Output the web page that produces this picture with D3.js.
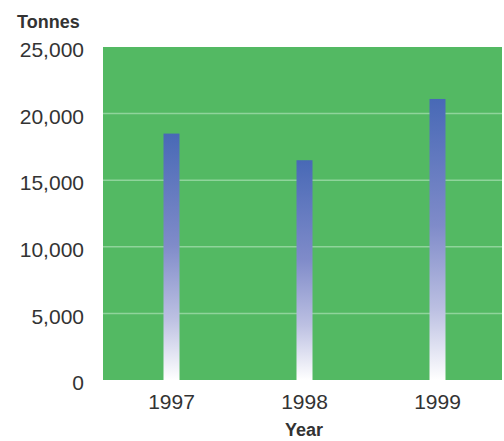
<!DOCTYPE html>
<html>
<head>
<meta charset="utf-8">
<script src="https://cdn.jsdelivr.net/npm/d3@7"></script>
<style>
  body { margin: 0; background: #fff; }
  svg { display: block; font-family: "Liberation Sans", Arial, sans-serif; }
</style>
</head>
<body>
<div id="chart"></div>
<script>
// data
var years = ["1997", "1998", "1999"];
var tonnes = [18500, 16500, 21100];
var yTicks = [0, 5000, 10000, 15000, 20000, 25000];

var width = 504, height = 441;
var plot = {left: 103, right: 502, top: 47, bottom: 380};

var svg = d3.select("#chart").append("svg")
	.attr("width", width)
	.attr("height", height);

// gradient for the bars, blue at the top fading to white
var grad = svg.append("defs").append("linearGradient")
	.attr("id", "barGrad")
	.attr("x1", 0).attr("y1", 0)
	.attr("x2", 0).attr("y2", 1);
grad.append("stop").attr("offset", "0%").attr("stop-color", "#4869b6");
grad.append("stop").attr("offset", "45%").attr("stop-color", "#7f8bc9");
grad.append("stop").attr("offset", "75%").attr("stop-color", "#bcc0e2");
grad.append("stop").attr("offset", "100%").attr("stop-color", "#ffffff");

var x = d3.scaleBand()
	.domain(years)
	.range([plot.left + 2, plot.right + 2]);

var y = d3.scaleLinear()
	.domain([0, 25000])
	.range([plot.bottom, plot.top]);

// green plot area
svg.append("rect")
	.attr("x", plot.left)
	.attr("y", plot.top)
	.attr("width", plot.right - plot.left)
	.attr("height", plot.bottom - plot.top)
	.attr("fill", "#53b963");

// gridlines
svg.append("g")
	.selectAll("line")
	.data(yTicks.filter(function(d) { return d > 0 && d < 25000; }))
	.enter().append("line")
	.attr("x1", plot.left)
	.attr("x2", plot.right)
	.attr("y1", function(d) { return y(d); })
	.attr("y2", function(d) { return y(d); })
	.attr("stroke", "#8fd49b")
	.attr("stroke-width", 1.5);

// bars
var barW = 16;
svg.append("g")
	.selectAll("rect")
	.data(years)
	.enter().append("rect")
	.attr("x", function(d) { return x(d) + x.bandwidth() / 2 - barW / 2; })
	.attr("y", function(d, i) { return y(tonnes[i]); })
	.attr("width", barW)
	.attr("height", function(d, i) { return y(0) - y(tonnes[i]); })
	.attr("fill", "url(#barGrad)");

// y axis labels
var yAxis = svg.append("g")
	.attr("transform", "translate(" + (plot.left - 19) + ",3)")
	.call(d3.axisLeft(y).tickValues(yTicks).tickSize(0).tickPadding(0)
		.tickFormat(d3.format(",")));
yAxis.select(".domain").remove();
yAxis.selectAll("text")
	.style("font-size", "21px")
	.style("font-family", "\"Liberation Sans\", Arial, sans-serif")
	.attr("fill", "#333");

// x axis labels
var xAxis = svg.append("g")
	.attr("transform", "translate(0," + plot.bottom + ")")
	.call(d3.axisBottom(x).tickSize(0).tickPadding(14));
xAxis.select(".domain").remove();
xAxis.selectAll("text")
	.style("font-size", "21px")
	.style("font-family", "\"Liberation Sans\", Arial, sans-serif")
	.attr("fill", "#333");

// axis titles
svg.append("text")
	.attr("x", 17)
	.attr("y", 28)
	.style("font-size", "18px")
	.style("font-weight", "bold")
	.attr("fill", "#333")
	.text("Tonnes");

svg.append("text")
	.attr("x", 304)
	.attr("y", 436)
	.attr("text-anchor", "middle")
	.style("font-size", "18px")
	.style("font-weight", "bold")
	.attr("fill", "#333")
	.text("Year");
</script>
</body>
</html>
